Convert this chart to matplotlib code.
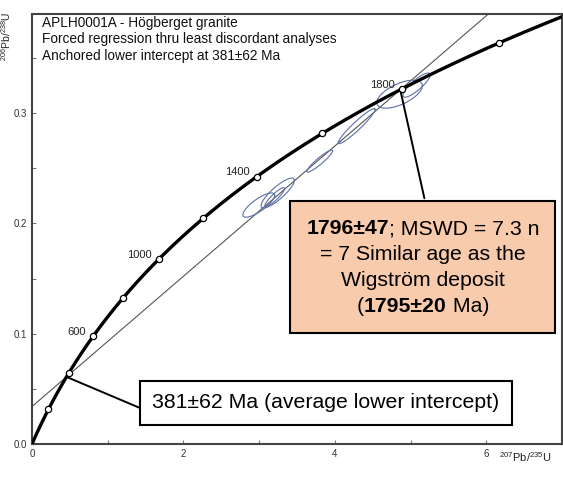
import numpy as np
import matplotlib.pyplot as plt

plt.rcParams['font.family'] = ['Liberation Sans', 'DejaVu Sans']
plt.rcParams['mathtext.fontset'] = 'custom'
plt.rcParams['mathtext.rm'] = 'Liberation Sans'
plt.rcParams['mathtext.it'] = 'Liberation Sans'
plt.rcParams['mathtext.bf'] = 'Liberation Sans:bold'

# decay constants (per Ma)
L238 = 1.55125e-4
L235 = 9.8485e-4

marker_ages = [200, 400, 600, 800, 1000, 1200, 1400, 1600, 1800, 2000]
label_ages = [600, 1000, 1400, 1800]
lower_age = 381
upper_age = 1796

# analyses (207Pb/235U, 206Pb/238U, sx, sy, rho)
ell_x = [2.995, 3.206, 3.245, 3.80, 4.288, 4.855, 5.079]
ell_y = [0.2167, 0.2239, 0.2276, 0.2566, 0.2883, 0.3173, 0.3255]
ell_sx = [0.21, 0.13, 0.22, 0.17, 0.244, 0.30, 0.18]
ell_sy = [0.011, 0.0086, 0.0136, 0.010, 0.0159, 0.0127, 0.011]
ell_rho = [0.80, 0.90, 0.85, 0.93, 0.95, 0.60, 0.85]

title_lines = ['APLH0001A - Högberget granite',
               'Forced regression thru least discordant analyses',
               'Anchored lower intercept at 381±62 Ma']


def conc(t):
    t = np.asarray(t, dtype=float)
    return np.exp(L235 * t) - 1, np.exp(L238 * t) - 1


fig = plt.figure(figsize=(5.63, 4.78), dpi=100)
ax = fig.add_axes([32 / 563, 34 / 478, 530 / 563, 430 / 478])
ax.set_xlim(0, 7)
ax.set_ylim(0, 0.39)

# concordia curve
t = np.linspace(0, 2200, 500)
cx, cy = conc(t)
ax.plot(cx, cy, color='black', lw=2.4, zorder=3)
mx, my = conc(marker_ages)
ax.plot(mx, my, 'o', ms=4.5, mfc='white', mec='black', mew=0.9, zorder=4)
for a in label_ages:
    lx, ly = conc(a)
    ax.annotate(str(a), (lx, ly), xytext=(-5, 3), textcoords='offset points',
                ha='right', va='center', fontsize=8, color='#222222')

# discordia line through the two intercepts
x1, y1 = conc(lower_age)
x2, y2 = conc(upper_age)
slope = (y2 - y1) / (x2 - x1)
xs = np.array([0, 7])
ax.plot(xs, y1 + slope * (xs - x1), color='#555555', lw=0.8, zorder=2)

# error ellipses
th = np.linspace(0, 2 * np.pi, 200)
for x0, y0, sx, sy, r in zip(ell_x, ell_y, ell_sx, ell_sy, ell_rho):
    ex = x0 + sx * np.cos(th)
    ey = y0 + sy * (r * np.cos(th) + np.sqrt(1 - r * r) * np.sin(th))
    ax.plot(ex, ey, color='#5b6fa8', lw=0.8, zorder=2.5)

# axes styling
ax.set_xticks(range(0, 8))
ax.set_xticklabels(['0', '', '2', '', '4', '', '6', ''])
ax.set_yticks(np.arange(0, 0.36, 0.05))
ax.set_yticklabels(['0.0', '', '0.1', '', '0.2', '', '0.3', ''])
ax.tick_params(direction='in', length=3, width=0.8, colors='#777777',
               labelcolor='#333333', labelsize=7)
for s in ax.spines.values():
    s.set_color('#444444')
    s.set_linewidth(1.5)

fig.text(525 / 563, 1 - 457 / 478, r'$^{207}$Pb/$^{235}$U', fontsize=8,
         ha='center', va='center', color='#222222')
fig.text(6 / 563, 1 - 12 / 478, r'$^{206}$Pb/$^{238}$U', fontsize=7.5,
         rotation=90, ha='center', va='top', color='#222222')

ax.text(10 / 530, 1 - 2 / 430, '\n'.join(title_lines), transform=ax.transAxes,
        ha='left', va='top', fontsize=9.8, linespacing=1.22, color='#111111')

# callout box for upper intercept
bx0, bx1, by0, by1 = 290, 555, 201, 333
fig.patches.append(plt.Rectangle((bx0 / 563, 1 - by1 / 478), (bx1 - bx0) / 563,
                                 (by1 - by0) / 478, transform=fig.transFigure,
                                 facecolor='#f8cbad', edgecolor='black', lw=1.5,
                                 zorder=5))
ax.annotate('', xy=(x2, y2), xytext=(425 / 563, 1 - by0 / 478),
            textcoords='figure fraction',
            arrowprops=dict(arrowstyle='-', color='black', lw=1.4), zorder=5)

box_lines = [[('1796±47', 'bold'), ('; MSWD = 7.3 n', 'normal')],
             [('= 7 Similar age as the', 'normal')],
             [('Wigström deposit', 'normal')],
             [('(', 'normal'), ('1795±20', 'bold'), (' Ma)', 'normal')]]
line_y = [229, 255, 281, 307]
fig.canvas.draw()
rend = fig.canvas.get_renderer()
for segs, yy in zip(box_lines, line_y):
    texts = []
    for s, w in segs:
        tt = fig.text(0, 1 - yy / 478, s, fontsize=15.3, fontweight=w,
                      ha='left', va='center', zorder=6)
        texts.append(tt)
    widths = [tt.get_window_extent(rend).width for tt in texts]
    x = 423 - sum(widths) / 2
    for tt, w in zip(texts, widths):
        tt.set_x(x / 563)
        x += w

# lower intercept box
lx0, lx1, ly0, ly1 = 140, 512, 381, 425
fig.patches.append(plt.Rectangle((lx0 / 563, 1 - ly1 / 478), (lx1 - lx0) / 563,
                                 (ly1 - ly0) / 478, transform=fig.transFigure,
                                 facecolor='white', edgecolor='black', lw=1.5,
                                 zorder=5))
fig.text((lx0 + lx1) / 2 / 563, 1 - (ly0 + ly1) / 2 / 478,
         '381±62 Ma (average lower intercept)', fontsize=15.3,
         ha='center', va='center', zorder=6)
ax.annotate('', xy=(x1, y1), xytext=(lx0 / 563, 1 - 408 / 478),
            textcoords='figure fraction',
            arrowprops=dict(arrowstyle='-', color='black', lw=1.4, shrinkA=0, shrinkB=0))

fig.savefig('out.png', dpi=100)
